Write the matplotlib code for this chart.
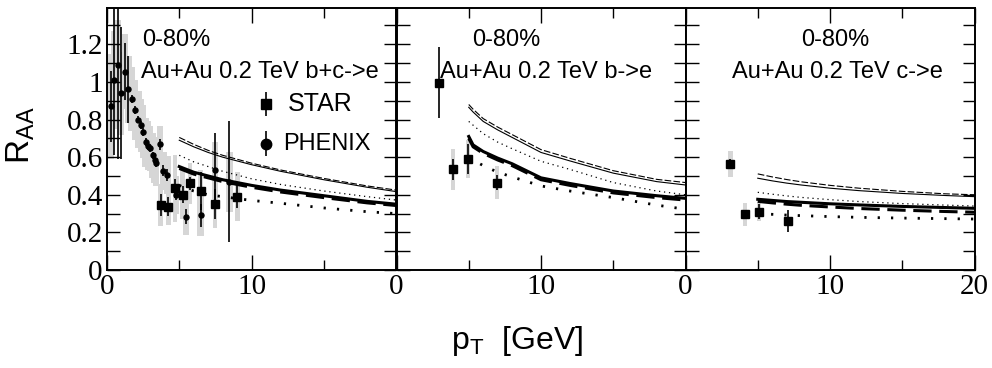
import numpy as np
import matplotlib.pyplot as plt
from matplotlib.ticker import MultipleLocator, FixedLocator, FuncFormatter

# ---- data ----
# STAR b+c->e
star_bc_x = [3.71, 4.24, 4.70, 5.24, 5.74, 6.48, 7.47, 9.02]
star_bc_y = [0.346, 0.337, 0.434, 0.40, 0.461, 0.42, 0.351, 0.39]
star_bc_stat = [0.058, 0.05, 0.05, 0.045, 0.035, 0.10, 0.08, 0.06]
star_bc_sys = [0.11, 0.10, 0.18, 0.13, 0.11, 0.11, 0.13, 0.13]

# PHENIX b+c->e
phenix_x = [0.28, 0.50, 0.74, 0.97, 1.25, 1.48, 1.71, 1.94, 2.17, 2.35, 2.50,
            2.68, 2.85, 2.98, 3.16, 3.30, 3.39, 3.67, 3.90, 4.18, 4.77, 5.47,
            6.48, 7.47, 8.47]
phenix_y = [0.87, 1.01, 1.09, 0.94, 1.055, 0.96, 0.91, 0.85, 0.80, 0.77, 0.735,
            0.68, 0.66, 0.647, 0.61, 0.585, 0.567, 0.668, 0.528, 0.505, 0.40,
            0.284, 0.29, 0.53, 0.47]
phenix_stat = [0.19, 0.40, 0.50, 0.35, 0.15, 0.18, 0.02, 0.02, 0.02, 0.02, 0.02,
               0.02, 0.02, 0.02, 0.02, 0.02, 0.02, 0.03, 0.03, 0.03, 0.03,
               0.04, 0.06, 0.20, 0.32]
phenix_sys = [0.28, 0.26, 0.24, 0.22, 0.20, 0.18, 0.17, 0.16, 0.15, 0.14, 0.14,
              0.13, 0.13, 0.12, 0.12, 0.12, 0.12, 0.10, 0.10, 0.10, 0.10,
              0.10, 0.11, 0.15, 0.16]

# STAR b->e
star_b_x = [2.93, 3.93, 4.95, 6.94]
star_b_y = [0.996, 0.535, 0.589, 0.465]
star_b_stat = [0.19, 0.055, 0.08, 0.04]
star_b_sys = [0.0, 0.11, 0.10, 0.09]

# STAR c->e
star_c_x = [3.11, 4.10, 5.09, 7.12]
star_c_y = [0.564, 0.296, 0.309, 0.26]
star_c_stat = [0.027, 0.025, 0.04, 0.06]
star_c_sys = [0.07, 0.06, 0.05, 0.0]

# model curves (pT grid and values per line)
pt = [5, 6, 7, 8, 10, 12, 15, 18, 20]
bc_thin_solid = [0.69, 0.655, 0.625, 0.60, 0.56, 0.525, 0.48, 0.44, 0.417]
bc_thin_dash = [0.705, 0.668, 0.636, 0.61, 0.568, 0.532, 0.487, 0.447, 0.425]
bc_thin_dot = [0.61, 0.575, 0.55, 0.525, 0.485, 0.455, 0.42, 0.39, 0.372]
bc_thick_solid = [0.55, 0.52, 0.50, 0.48, 0.45, 0.425, 0.395, 0.365, 0.35]
bc_thick_dash = [0.54, 0.51, 0.49, 0.47, 0.44, 0.415, 0.385, 0.357, 0.343]
bc_thick_dot = [0.45, 0.42, 0.40, 0.39, 0.37, 0.355, 0.33, 0.31, 0.30]

pt_b = [5, 5.3, 6, 7, 8, 10, 12, 15, 18, 20]
b_thin_solid = [0.865, 0.84, 0.79, 0.745, 0.705, 0.625, 0.58, 0.515, 0.47, 0.452]
b_thin_dash = [0.88, 0.855, 0.805, 0.76, 0.72, 0.64, 0.594, 0.528, 0.482, 0.465]
b_thin_dot = [0.79, 0.77, 0.725, 0.68, 0.645, 0.578, 0.535, 0.465, 0.42, 0.40]
b_thick_solid = [0.71, 0.665, 0.63, 0.595, 0.565, 0.49, 0.46, 0.42, 0.395, 0.381]
b_thick_dash = [0.70, 0.655, 0.62, 0.585, 0.555, 0.48, 0.45, 0.41, 0.385, 0.372]
b_thick_dot = [0.60, 0.585, 0.555, 0.52, 0.495, 0.447, 0.42, 0.385, 0.345, 0.323]

c_thin_solid = [0.488, 0.474, 0.462, 0.452, 0.435, 0.422, 0.407, 0.396, 0.39]
c_thin_dash = [0.511, 0.495, 0.481, 0.469, 0.45, 0.435, 0.418, 0.405, 0.40]
c_thin_dot = [0.413, 0.403, 0.394, 0.386, 0.374, 0.364, 0.353, 0.345, 0.34]
c_thick_solid = [0.376, 0.37, 0.364, 0.36, 0.352, 0.346, 0.338, 0.332, 0.328]
c_thick_dash = [0.365, 0.357, 0.35, 0.344, 0.335, 0.327, 0.318, 0.311, 0.307]
c_thick_dot = [0.30, 0.296, 0.292, 0.289, 0.284, 0.28, 0.276, 0.273, 0.271]

labels = ["Au+Au 0.2 TeV b+c->e", "Au+Au 0.2 TeV b->e", "Au+Au 0.2 TeV c->e"]

SANS = "Liberation Sans"
SERIF = "Liberation Serif"
GRAY = "#d6d6d6"

fig = plt.figure(figsize=(9.92, 3.68), dpi=100)
W, H = 992.0, 368.0
lefts = [107, 396.5, 685.5]
pw = 289
top, bot = 8, 270
axes = []
for l in lefts:
    ax = fig.add_axes([l / W, 1 - bot / H, pw / W, (bot - top) / H])
    axes.append(ax)


def sysboxes(ax, x, y, s, w=0.32):
    x = np.asarray(x); y = np.asarray(y); s = np.asarray(s)
    ax.bar(x, 2 * s, bottom=y - s, width=w, color=GRAY, edgecolor="none", zorder=1)


def curves(ax, x, ts, td, tdot, ks, kd, kdot):
    ax.plot(x, td, color="k", lw=0.8, ls=(0, (6, 2)), zorder=3)
    ax.plot(x, ts, color="k", lw=0.8, zorder=3)
    ax.plot(x, tdot, color="k", lw=0.9, ls=(0, (1, 3)), zorder=3)
    ax.plot(x, ks, color="k", lw=2.2, zorder=3)
    ax.plot(x, kd, color="k", lw=2.2, ls=(0, (6, 2.5)), zorder=3)
    ax.plot(x, kdot, color="k", lw=2.0, ls=(0, (0.8, 4)), zorder=3)


# panel 1
ax = axes[0]
sysboxes(ax, phenix_x, phenix_y, phenix_sys, w=0.45)
sysboxes(ax, star_bc_x, star_bc_y, star_bc_sys, w=0.32)
curves(ax, pt, bc_thin_solid, bc_thin_dash, bc_thin_dot,
       bc_thick_solid, bc_thick_dash, bc_thick_dot)
ax.errorbar(star_bc_x, star_bc_y, yerr=star_bc_stat, fmt="s", color="k",
            ms=5.5, elinewidth=1.2, capsize=0, zorder=4)
ax.errorbar(phenix_x, phenix_y, yerr=phenix_stat, fmt="o", color="k",
            ms=3.6, elinewidth=1.2, capsize=0, zorder=4)

# legend drawn as markers + text
ax.errorbar([11.0], [0.883], yerr=[0.065], fmt="s", color="k", ms=7.5,
            elinewidth=1.2, capsize=0, clip_on=False)
ax.errorbar([11.0], [0.672], yerr=[0.065], fmt="o", color="k", ms=7.5,
            elinewidth=1.2, capsize=0, clip_on=False)
ax.text(12.5, 0.883, "STAR", fontsize=18, family=SANS, va="center")
ax.text(12.2, 0.672, "PHENIX", fontsize=17, family=SANS, va="center")

# panel 2
ax = axes[1]
sysboxes(ax, star_b_x, star_b_y, star_b_sys, w=0.3)
curves(ax, pt_b, b_thin_solid, b_thin_dash, b_thin_dot,
       b_thick_solid, b_thick_dash, b_thick_dot)
ax.errorbar(star_b_x, star_b_y, yerr=star_b_stat, fmt="s", color="k",
            ms=5.5, elinewidth=1.2, capsize=0, zorder=4)

# panel 3
ax = axes[2]
sysboxes(ax, star_c_x, star_c_y, star_c_sys, w=0.3)
curves(ax, pt, c_thin_solid, c_thin_dash, c_thin_dot,
       c_thick_solid, c_thick_dash, c_thick_dot)
ax.errorbar(star_c_x, star_c_y, yerr=star_c_stat, fmt="s", color="k",
            ms=5.5, elinewidth=1.2, capsize=0, zorder=4)

# labels inside panels
cent_pos = [0.121, 0.261, 0.401]
lab_pos = [0.118, 0.150, 0.162]
for ax, cx, lx, lab in zip(axes, cent_pos, lab_pos, labels):
    ax.text(cx, 0.878, "0-80%", transform=ax.transAxes, fontsize=17,
            family=SANS, va="center")
    ax.text(lx, 0.756, lab, transform=ax.transAxes, fontsize=17,
            family=SANS, va="center")

# axes styling
xtick_sets = [[0, 10], [0, 10], [0, 10, 20]]
for i, ax in enumerate(axes):
    ax.set_xlim(0, 20)
    ax.set_ylim(0, 1.393)
    ax.xaxis.set_major_locator(FixedLocator([0, 10, 20]))
    ax.xaxis.set_minor_locator(FixedLocator([5, 15]))
    keep = xtick_sets[i]
    ax.xaxis.set_major_formatter(FuncFormatter(
        lambda v, p, keep=keep: "%d" % v if int(round(v)) in keep else ""))
    ax.yaxis.set_major_locator(MultipleLocator(0.2))
    ax.yaxis.set_minor_locator(MultipleLocator(0.1))
    ax.tick_params(which="both", direction="in", top=True, right=True,
                   width=1.0, labelsize=21, pad=3)
    ax.tick_params(which="major", length=11)
    ax.tick_params(which="minor", length=7)
    ax.tick_params(axis="y", which="both", length=9)
    for sp in ax.spines.values():
        sp.set_linewidth(1.4)
    for t in ax.get_xticklabels() + ax.get_yticklabels():
        t.set_family(SERIF)
    if i == 0:
        ax.yaxis.set_major_formatter(FuncFormatter(
            lambda v, p: "0" if abs(v) < 1e-9 else ("1" if abs(v - 1) < 1e-9 else "%g" % v)))
    else:
        ax.tick_params(axis="y", labelleft=False)

fig.text(21 / W, 1 - 135 / H, r"R$_{\mathregular{AA}}$", rotation=90, fontsize=24,
         family=SANS, ha="center", va="center")
fig.text(517 / W, 1 - 341 / H, r"p$_{\mathregular{T}}$  [GeV]", fontsize=23,
         family=SANS, ha="center", va="center")

fig.savefig("out.png", dpi=100)
